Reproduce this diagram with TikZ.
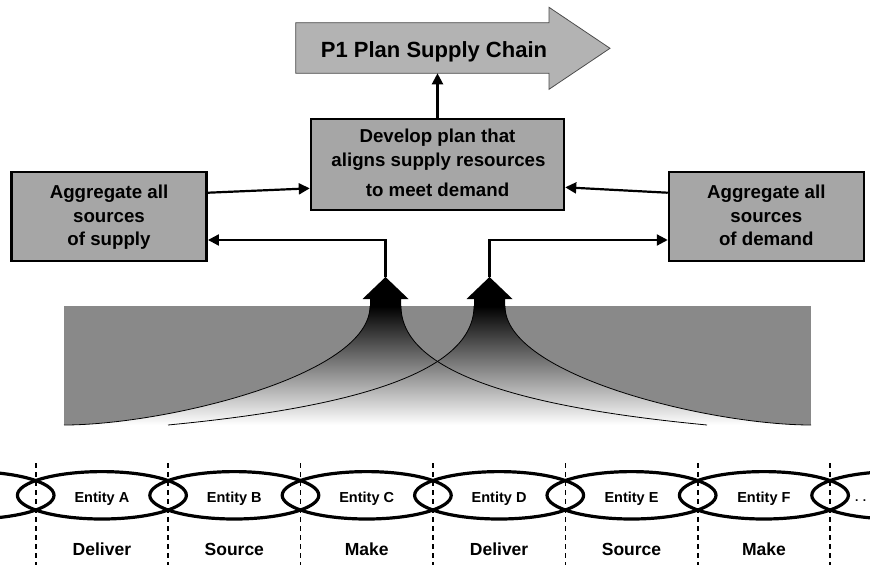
\documentclass[tikz,border=0pt]{standalone}
\usepackage{fontspec}
\setmainfont{Liberation Sans}
\usetikzlibrary{arrows.meta,calc}
\definecolor{boxgray}{HTML}{A6A6A6}
\definecolor{arrgray}{HTML}{B3B3B3}
\definecolor{bandgray}{HTML}{898989}
\definecolor{fadegray}{HTML}{A4A4A4}
\begin{document}
\begin{tikzpicture}[x=1pt,y=-1pt,
  box/.style={draw=black, line width=2.5pt, fill=boxgray, rectangle, inner sep=0pt, minimum width=195pt, minimum height=89.3pt},
  conn/.style={line width=2.2pt, -{Triangle[length=11pt,width=11pt]}},
  txtbig/.style={font=\bfseries\fontsize{22}{26}\selectfont, inner sep=0pt, anchor=base},
  txtbox/.style={font=\bfseries\fontsize{18.7}{22}\selectfont, inner sep=0pt, anchor=base},
  txtent/.style={font=\bfseries\fontsize{14.5}{17}\selectfont, inner sep=0pt, anchor=base},
  txtlbl/.style={font=\bfseries\fontsize{17.5}{20}\selectfont, inner sep=0pt, anchor=base},
  fade/.style={top color=black, middle color=fadegray, bottom color=white},
  edgeline/.style={line width=0.8pt, black},
  link/.style={line width=3.2pt},
  sep/.style={line width=1.6pt, dash pattern=on 5pt off 4pt}
]
\useasboundingbox (0,0) rectangle (870,565);

% big process arrow
\draw[fill=arrgray, draw=black!70, line width=0.8pt] (295.7,22.7) -- (549,22.7) -- (549,7.3) -- (610,48.3) -- (549,89.3) -- (549,73.3) -- (295.7,73.3) -- cycle;
\node[txtbig] (p1) at (434,57.3) {P1 Plan Supply Chain};
\coordinate (p1bot) at (437.5,73.3);

% boxes
\node[box, minimum width=253pt, minimum height=91pt] (plan) at (437.5,164.5) {};
\node[txtbox] (planA) at (437.5,142.7) {Develop plan that};
\node[txtbox] (planB) at (438.5,166.7) {aligns supply resources};
\node[txtbox] (planC) at (437.5,196.7) {to meet demand};

\node[box] (supply) at (109.2,216.4) {};
\node[txtbox] (supA) at (109,198.3) {Aggregate all};
\node[txtbox] (supB) at (109,222.3) {sources};
\node[txtbox] (supC) at (109,245.7) {of supply};

\node[box] (demand) at (766.5,216.4) {};
\node[txtbox] (demA) at (766.3,198.3) {Aggregate all};
\node[txtbox] (demB) at (766.3,222.3) {sources};
\node[txtbox] (demC) at (766.3,245.7) {of demand};

% band with fading arrows
\fill[bandgray] (64,306) rectangle (811,425);
\shade[fade] (370,306) -- (401,306) .. controls (401,380) and (551,410) .. (707,425) -- (64,425) .. controls (164,425) and (370,376) .. (370,306) -- cycle;
\shade[fade] (474,306) -- (505,306) .. controls (505,376) and (711,425) .. (811,425) -- (168,425) .. controls (324,410) and (474,380) .. (474,306) -- cycle;
\fill[black] (362.5,299) -- (385.5,277) -- (408.5,299) -- (401,299) -- (401,307) -- (370,307) -- (370,299) -- cycle;
\fill[black] (466.5,299) -- (489.5,277) -- (512.5,299) -- (505,299) -- (505,307) -- (474,307) -- (474,299) -- cycle;
\draw[edgeline] (370,306) .. controls (370,376) and (164,425) .. (64,425);
\draw[edgeline] (401,306) .. controls (401,380) and (551,410) .. (707,425);
\draw[edgeline] (474,306) .. controls (474,380) and (324,410) .. (168,425);
\draw[edgeline] (505,306) .. controls (505,376) and (711,425) .. (811,425);
\coordinate (tipL) at (385.5,277);
\coordinate (tipR) at (489.5,277);

% connectors
\draw[conn] (plan.north) -- (p1bot);
\draw[conn] ($(supply.north east)!0.242!(supply.south east)$) -- ($(plan.north west)!0.755!(plan.south west)$);
\draw[conn] ($(demand.north west)!0.242!(demand.south west)$) -- ($(plan.north east)!0.744!(plan.south east)$);
\draw[conn] (tipL) |- ($(supply.north east)!0.757!(supply.south east)$);
\draw[conn] (tipR) |- ($(demand.north west)!0.757!(demand.south west)$);

% chain of entities
\begin{scope}
\clip (0,0) rectangle (870,565);
\foreach \i in {0,...,6}
  \draw[sep] ({35.7+132.4*\i},463) -- ({35.7+132.4*\i},565);
\foreach \i in {-1,...,6}
  \draw[link] ({101.9+132.4*\i},495.3) ellipse [x radius=84.5, y radius=23.7];
\foreach \n/\lab [count=\i from 0] in {A/Deliver, B/Source, C/Make, D/Deliver, E/Source, F/Make} {
  \node[txtent] (ent\n) at ({101.9+132.4*\i},502.7) {Entity \n};
  \node[txtlbl] (lbl\n) at ({101.9+132.4*\i},555.5) {\lab};
}
\node[font=\bfseries\fontsize{12}{14}\selectfont, inner sep=0pt, anchor=base west] (more) at (855,501) {. .};
\end{scope}
\end{tikzpicture}
\end{document}
